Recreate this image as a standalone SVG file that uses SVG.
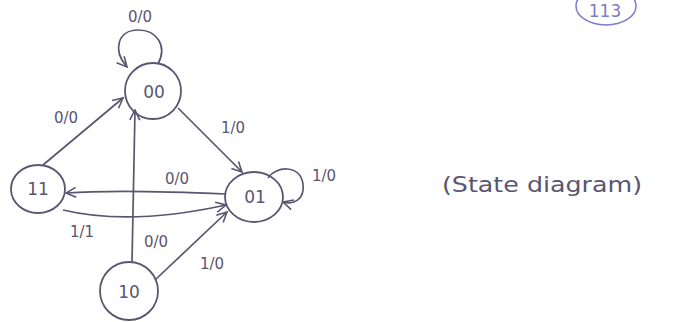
<svg xmlns="http://www.w3.org/2000/svg" width="680" height="322" viewBox="0 0 680 322">
<defs>
<style>
.st{fill:none;stroke:#5a5570;stroke-width:1.8}
.nt{font-family:"DejaVu Sans",sans-serif;font-size:17px;fill:#5a5570;text-anchor:middle}
.lb{font-family:"DejaVu Sans",sans-serif;font-size:15px;fill:#5a5570;text-anchor:middle}
.ed{fill:none;stroke:#5a5570;stroke-width:1.7;marker-end:url(#ah)}
</style>
<marker id="ah" viewBox="0 0 12 12" refX="11" refY="6" markerWidth="12" markerHeight="12" markerUnits="userSpaceOnUse" orient="auto">
<path d="M1,1 L11,6 L1,11" fill="none" stroke="#5a5570" stroke-width="1.6"/>
</marker>
</defs>
<rect width="680" height="322" fill="#ffffff"/>
<g id="page-number">
<ellipse cx="606" cy="6" rx="30" ry="19" fill="none" stroke="#7b7bcc" stroke-width="1.5"/>
<text x="605" y="17" font-family="DejaVu Sans,sans-serif" font-size="17" fill="#7b7bcc" text-anchor="middle">113</text>
</g>
<g id="connectors">
<path class="ed" d="M158,64 C168,45 156,30 138,30 C118,30 112,50 127,67"/>
<path class="ed" d="M43,165 L123,98"/>
<path class="ed" d="M178,108 L242,172"/>
<path class="ed" d="M226,194 C180,192 110,190 66,193"/>
<path class="ed" d="M63,210 Q130,226 226,205"/>
<path class="ed" d="M132,263 L135,110"/>
<path class="ed" d="M155,280 L227,212"/>
<path class="ed" d="M268,178 C276,166 300,164 303,184 C305,200 293,205 283,202"/>
<text class="lb" x="140" y="22">0/0</text>
<text class="lb" x="66" y="123">0/0</text>
<text class="lb" x="233" y="133">1/0</text>
<text class="lb" x="177" y="184">0/0</text>
<text class="lb" x="324" y="181">1/0</text>
<text class="lb" x="82" y="237">1/1</text>
<text class="lb" x="156" y="247">0/0</text>
<text class="lb" x="212" y="269">1/0</text>
</g>
<g id="s00"><ellipse class="st" cx="153" cy="91" rx="28" ry="28"/><text class="nt" x="154" y="98">00</text></g>
<g id="s11"><ellipse class="st" cx="38" cy="189" rx="27" ry="24"/><text class="nt" x="38" y="195">11</text></g>
<g id="s01"><ellipse class="st" cx="254" cy="197" rx="29" ry="25"/><text class="nt" x="255" y="203">01</text></g>
<g id="s10"><ellipse class="st" cx="129" cy="291" rx="29" ry="29"/><text class="nt" x="129" y="298">10</text></g>
<text x="442" y="192" font-family="DejaVu Sans,sans-serif" font-size="22" fill="#5a5570" textLength="200" lengthAdjust="spacingAndGlyphs">(State diagram)</text>
</svg>
